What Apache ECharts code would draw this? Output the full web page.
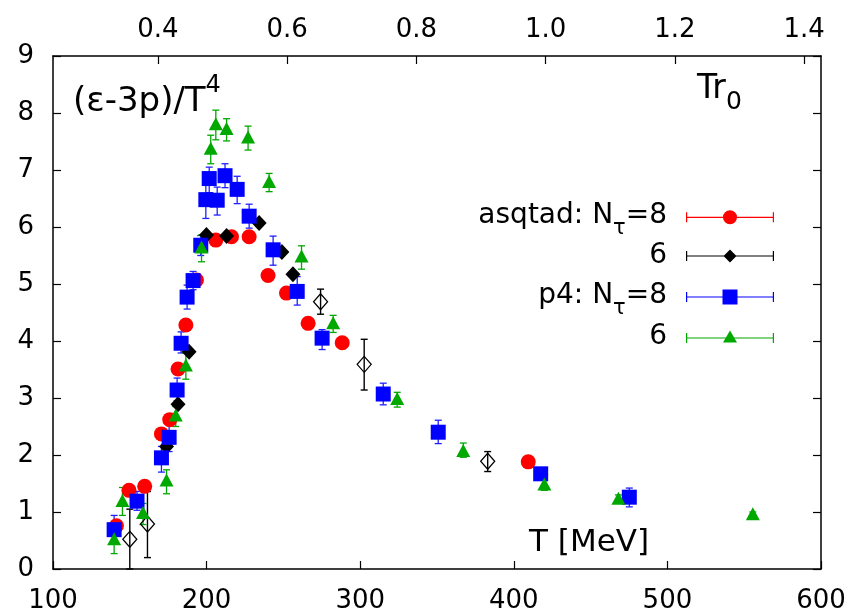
<!DOCTYPE html>
<html><head><meta charset="utf-8">
<script src="https://cdn.jsdelivr.net/npm/echarts@6/dist/echarts.min.js"></script>
<style>html,body{margin:0;padding:0;background:#fff}#c{width:852px;height:614px}</style>
</head><body><div id="c"></div>
<script>
// ---------- data ----------
const xTicks = [100, 200, 300, 400, 500, 600];
const yTicks = [0, 1, 2, 3, 4, 5, 6, 7, 8, 9];
const topTicks = [0.4, 0.6, 0.8, 1.0, 1.2, 1.4];   // T r0
const INV_R0 = 420.7;                               // 1/r0 in MeV

// rows: [T (MeV), (e-3p)/T^4, error low, error high]
const asqtad8 = [
  [141.3, 0.76, 0.70, 0.82], [149.5, 1.38, 1.32, 1.44], [159.7, 1.45, 1.39, 1.51],
  [170.6, 2.37, 2.31, 2.43], [176.0, 2.62, 2.56, 2.68], [181.4, 3.51, 3.45, 3.57],
  [186.5, 4.28, 4.22, 4.34], [193.4, 5.07, 5.01, 5.13], [206.0, 5.77, 5.70, 5.84],
  [216.2, 5.83, 5.76, 5.90], [227.7, 5.83, 5.76, 5.90], [240.0, 5.15, 5.09, 5.21],
  [252.0, 4.84, 4.78, 4.90], [266.1, 4.31, 4.25, 4.37], [288.3, 3.97, 3.91, 4.03],
  [409.4, 1.88, 1.84, 1.92]
];
const asqtad6 = [
  [173.9, 2.15, 2.11, 2.19], [181.4, 2.89, 2.85, 2.93], [188.6, 3.81, 3.77, 3.85],
  [199.9, 5.86, 5.82, 5.90], [213.0, 5.84, 5.80, 5.88], [234.2, 6.07, 6.03, 6.11],
  [249.0, 5.56, 5.52, 5.60], [256.2, 5.17, 5.13, 5.21]
];
const asqtad4open = [
  [150.0, 0.52, 0.00, 1.05], [161.5, 0.79, 0.20, 1.36], [274.2, 4.69, 4.47, 4.91],
  [302.6, 3.59, 3.14, 4.03], [383.0, 1.89, 1.71, 2.06]
];
const p4_8 = [
  [139.8, 0.69, 0.45, 0.94], [154.7, 1.19, 1.03, 1.36], [170.6, 1.95, 1.70, 2.15],
  [175.6, 2.31, 2.06, 2.56], [180.8, 3.14, 2.95, 3.35], [183.4, 3.96, 3.79, 4.16],
  [187.3, 4.77, 4.56, 4.98], [191.2, 5.06, 4.90, 5.22], [196.2, 5.68, 5.50, 5.85],
  [199.5, 6.48, 6.15, 6.82], [201.7, 6.85, 6.60, 7.05], [206.9, 6.47, 6.21, 6.70],
  [212.0, 6.90, 6.69, 7.11], [219.9, 6.66, 6.41, 6.89], [227.7, 6.19, 5.98, 6.40],
  [243.3, 5.60, 5.33, 5.84], [259.0, 4.87, 4.63, 5.13], [275.2, 4.05, 3.85, 4.20],
  [315.0, 3.07, 2.88, 3.26], [350.8, 2.40, 2.20, 2.61], [417.5, 1.67, 1.58, 1.75],
  [475.2, 1.26, 1.09, 1.42]
];
const p4_6 = [
  [139.8, 0.53, 0.27, 0.75], [145.2, 1.20, 0.94, 1.43], [158.6, 0.99, 0.78, 1.15],
  [173.9, 1.56, 1.32, 1.74], [179.9, 2.70, 2.50, 2.85], [186.5, 3.58, 3.33, 3.79],
  [196.7, 5.65, 5.39, 5.86], [202.7, 7.38, 7.11, 7.61], [206.0, 7.81, 7.53, 8.05],
  [213.0, 7.73, 7.51, 7.90], [227.0, 7.58, 7.35, 7.77], [240.7, 6.80, 6.62, 6.94],
  [261.8, 5.49, 5.26, 5.67], [282.4, 4.32, 4.15, 4.45], [324.1, 2.99, 2.84, 3.10],
  [367.1, 2.08, 1.96, 2.21], [419.9, 1.49, 1.38, 1.60], [468.1, 1.24, 1.18, 1.30],
  [555.6, 0.97, 0.93, 1.00]
];

// ---------- chart ----------
const FF = '"DejaVu Sans", "Liberation Sans", sans-serif';
const chart = echarts.init(document.getElementById('c'), null, {renderer: 'canvas'});

function errSeries(name, rows, color, lw) {
  return {
    type: 'custom', name: name + '_err', silent: true, animation: false,
    data: rows.map(r => [r[0], r[2], r[3]]),
    encode: {x: 0, y: [1, 2]},
    renderItem: function (params, api) {
      const x = api.value(0);
      const a = api.coord([x, api.value(1)]);
      const b = api.coord([x, api.value(2)]);
      const c = 3.5;
      const st = {stroke: color, lineWidth: lw};
      return {type: 'group', children: [
        {type: 'line', shape: {x1: a[0], y1: a[1], x2: b[0], y2: b[1]}, style: st},
        {type: 'line', shape: {x1: a[0] - c, y1: a[1], x2: a[0] + c, y2: a[1]}, style: st},
        {type: 'line', shape: {x1: b[0] - c, y1: b[1], x2: b[0] + c, y2: b[1]}, style: st}
      ]};
    }
  };
}
function ptSeries(name, rows, symbol, size, itemStyle) {
  return {
    type: 'scatter', name: name, animation: false,
    data: rows.map(r => [r[0], r[1]]),
    symbol: symbol, symbolSize: size, itemStyle: Object.assign({opacity: 1}, itemStyle),
    emphasis: {disabled: true}
  };
}

const axisLine = {show: true, onZero: false, lineStyle: {color: '#000', width: 1.5}};
const tickStyle = {color: '#000', width: 1.2};
const labelBase = {color: '#000', fontSize: 26, fontFamily: FF};

// legend icons: error bar + marker, bounding box exactly itemWidth x itemHeight
const iconCircle = 'path://M0,6.4H88V7.6H0Z M0,2H1.2V12H0Z M86.8,2H88V12H86.8Z M51,7A7,7,0,1,1,37,7A7,7,0,1,1,51,7Z';
const iconDiamond = 'path://M0,5.9H88V7.1H0Z M0,1.5H1.2V11.5H0Z M86.8,1.5H88V11.5H86.8Z M44,0L50.5,6.5L44,13L37.5,6.5Z';
const iconSquare = 'path://M0,6.9H88V8.1H0Z M0,2.5H1.2V12.5H0Z M86.8,2.5H88V12.5H86.8Z M36.5,0H51.5V15H36.5Z';
const iconTri = 'path://M0,6.9H88V8.1H0Z M0,2.5H1.2V12.5H0Z M86.8,2.5H88V12.5H86.8Z M44,0L51,12L37,12Z';
function legendBox(name, icon, top, h) {
  return {show: true, data: [{name: name, icon: icon}], left: 686, top: top, padding: 0,
    itemWidth: 88, itemHeight: h, selectedMode: false, formatter: () => '',
    textStyle: {fontSize: 1}};
}

const legRich = {fontSize: 28, fontFamily: FF, lineHeight: 28, fill: '#000'};
const legSub = {fontSize: 21, fontFamily: FF, lineHeight: 21, padding: [26, 0, 0, 0], fill: '#000'};

chart.setOption({
  animation: false,
  backgroundColor: '#fff',
  grid: {left: 53, right: 31, top: 56, bottom: 44, containLabel: false},
  xAxis: [
    {type: 'value', min: xTicks[0], max: xTicks[xTicks.length - 1], interval: 100, position: 'bottom',
     axisLine: axisLine, axisTick: {inside: true, length: 8, lineStyle: tickStyle},
     axisLabel: Object.assign({margin: 19}, labelBase), splitLine: {show: false}},
    {type: 'value', min: xTicks[0], max: xTicks[xTicks.length - 1], position: 'top',
     axisLine: axisLine,
     axisTick: {inside: true, length: 8, lineStyle: tickStyle, customValues: topTicks.map(t => t * INV_R0)},
     axisLabel: Object.assign({margin: 13, customValues: topTicks.map(t => t * INV_R0),
       formatter: v => (v / INV_R0).toFixed(1)}, labelBase),
     splitLine: {show: false}}
  ],
  yAxis: [
    {type: 'value', min: yTicks[0], max: yTicks[yTicks.length - 1], interval: 1, position: 'left',
     axisLine: axisLine, axisTick: {inside: true, length: 8, lineStyle: tickStyle},
     axisLabel: Object.assign({margin: 19}, labelBase), splitLine: {show: false}},
    {type: 'value', min: yTicks[0], max: yTicks[yTicks.length - 1], interval: 1, position: 'right',
     axisLine: axisLine, axisTick: {inside: true, length: 8, lineStyle: tickStyle},
     axisLabel: {show: false}, splitLine: {show: false}}
  ],
  legend: [
    legendBox('asqtad: Nτ=8', iconCircle, 210.3, 14),
    legendBox('asqtad: Nτ=6', iconDiamond, 249.5, 13),
    legendBox('p4: Nτ=8', iconSquare, 289.5, 15),
    legendBox('p4: Nτ=6', iconTri, 330.5, 12.5)
  ],
  graphic: [
    {type: 'text', x: 73, y: 102, silent: true, style: {
      text: '{m|(ε-3p)/T}{s|4}', verticalAlign: 'middle', align: 'left',
      rich: {m: {fontSize: 34, fontFamily: FF, lineHeight: 34, fill: '#000'},
             s: {fontSize: 24, fontFamily: FF, lineHeight: 24, padding: [0, 0, 32, 0], fill: '#000'}}}},
    {type: 'text', x: 697, y: 89, silent: true, style: {
      text: '{m|Tr}{s|0}', verticalAlign: 'middle', align: 'left',
      rich: {m: {fontSize: 33, fontFamily: FF, lineHeight: 33, fill: '#000'},
             s: {fontSize: 25, fontFamily: FF, lineHeight: 25, padding: [26, 0, 0, 0], fill: '#000'}}}},
    {type: 'text', x: 529, y: 543, silent: true, style: {
      text: 'T [MeV]', verticalAlign: 'middle', align: 'left', fontSize: 31, fontFamily: FF, fill: '#000'}},
    {type: 'text', x: 667, y: 216, silent: true, style: {
      text: '{m|asqtad: N}{s|τ}{m|=8}', verticalAlign: 'middle', align: 'right',
      rich: {m: legRich, s: legSub}}},
    {type: 'text', x: 667, y: 256, silent: true, style: {
      text: '6', verticalAlign: 'middle', align: 'right', fontSize: 28, fontFamily: FF, fill: '#000'}},
    {type: 'text', x: 667, y: 296, silent: true, style: {
      text: '{m|p4: N}{s|τ}{m|=8}', verticalAlign: 'middle', align: 'right',
      rich: {m: legRich, s: legSub}}},
    {type: 'text', x: 667, y: 337, silent: true, style: {
      text: '6', verticalAlign: 'middle', align: 'right', fontSize: 28, fontFamily: FF, fill: '#000'}}
  ],
  series: [
    errSeries('asqtad: Nτ=8', asqtad8, '#ff3030', 1.2),
    ptSeries('asqtad: Nτ=8', asqtad8, 'circle', 15, {color: '#ff0000'}),
    errSeries('asqtad: Nτ=6', asqtad6, '#000000', 1.2),
    ptSeries('asqtad: Nτ=6', asqtad6, 'diamond', [15, 16], {color: '#000000'}),
    errSeries('asqtad4open', asqtad4open, '#000000', 1.4),
    ptSeries('asqtad4open', asqtad4open, 'diamond', [14, 16], {color: 'rgba(0,0,0,0)', borderColor: '#000', borderWidth: 1.3}),
    errSeries('p4: Nτ=8', p4_8, '#2020ff', 1.3),
    ptSeries('p4: Nτ=8', p4_8, 'rect', 15, {color: '#0000ff'}),
    errSeries('p4: Nτ=6', p4_6, '#00a800', 1.3),
    ptSeries('p4: Nτ=6', p4_6, 'triangle', [14, 13], {color: '#00a800'})
  ]
});
</script>
</body></html>
